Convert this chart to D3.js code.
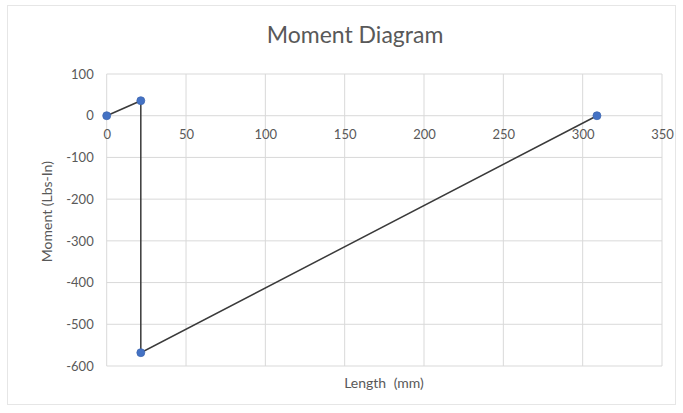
<!DOCTYPE html>
<html><head><meta charset="utf-8">
<script src="https://cdn.jsdelivr.net/npm/d3@7"></script>
<style>body{margin:0;background:#fff;}svg{display:block;font-family:Lato,"Open Sans",sans-serif;}</style>
</head><body>
<script>
const xValues = [0, 21.5, 21.5, 309];
const yValues = [0, 36, -568, 0];
const xTicks = [0, 50, 100, 150, 200, 250, 300, 350];
const yTicks = [100, 0, -100, -200, -300, -400, -500, -600];
const title = "Moment Diagram";
const xTitle = "Length (mm)";
const yTitle = "Moment (Lbs-In)";

const W = 683, H = 413;
const svg = d3.select("body").append("svg").attr("width", W).attr("height", H);
svg.append("rect").attr("x", 7.5).attr("y", 5.5).attr("width", 668).attr("height", 399)
  .attr("fill", "#fff").attr("stroke", "#e6e6e6");

const x = d3.scaleLinear().domain([0, 350]).range([106.7, 662]);
const y = d3.scaleLinear().domain([-600, 100]).range([366, 74]);
const grey = "#595959";
const ff = "Lato,'Open Sans',sans-serif";

// gridlines
const g = svg.append("g");
g.selectAll(".hg").data(yTicks).join("line")
  .attr("x1", x(0)).attr("x2", x(350)).attr("y1", d => y(d)).attr("y2", d => y(d))
  .attr("stroke", "#d9d9d9").attr("stroke-width", 1);
g.selectAll(".vg").data(xTicks).join("line")
  .attr("x1", d => x(d)).attr("x2", d => x(d)).attr("y1", y(100)).attr("y2", y(-600))
  .attr("stroke", "#d9d9d9").attr("stroke-width", 1);

// y tick labels
const yAxis = d3.axisLeft(y).tickValues(yTicks).tickSize(0).tickPadding(13).tickFormat(d => String(d));
const ya = svg.append("g").attr("transform", `translate(${x(0)},0)`).call(yAxis);
ya.select(".domain").remove();
ya.selectAll("text").attr("fill", grey).attr("font-size", 13).attr("font-family", ff);

// x tick labels at zero line
const xAxis = d3.axisBottom(x).tickValues(xTicks).tickSize(0).tickPadding(14).tickFormat(d => String(d));
const xa = svg.append("g").attr("transform", `translate(0,${y(0)})`).call(xAxis);
xa.select(".domain").remove();
xa.selectAll("text").attr("fill", grey).attr("font-size", 13).attr("font-family", ff);

// line
const pts = xValues.map((v, i) => [v, yValues[i]]);
svg.append("path").datum(pts)
  .attr("d", d3.line().x(d => x(d[0])).y(d => y(d[1])))
  .attr("fill", "none").attr("stroke", "#3a3a3a").attr("stroke-width", 1.5);
svg.selectAll(".pt").data(pts).join("circle")
  .attr("cx", d => x(d[0])).attr("cy", d => y(d[1])).attr("r", 4)
  .attr("fill", "#4472C4").attr("stroke", "#3f67b0").attr("stroke-width", 0.75);

// titles
svg.append("text").attr("x", 355).attr("y", 43).attr("text-anchor", "middle")
  .attr("fill", grey).attr("font-size", 23).text(title);
svg.append("text").attr("x", 384).attr("y", 388).attr("text-anchor", "middle")
  .attr("fill", grey).attr("font-size", 14).attr("word-spacing", 4).text(xTitle);
svg.append("text").attr("transform", `translate(52,${y(-230)}) rotate(-90)`).attr("text-anchor", "middle")
  .attr("fill", grey).attr("font-size", 14).text(yTitle);
</script>
</body></html>
